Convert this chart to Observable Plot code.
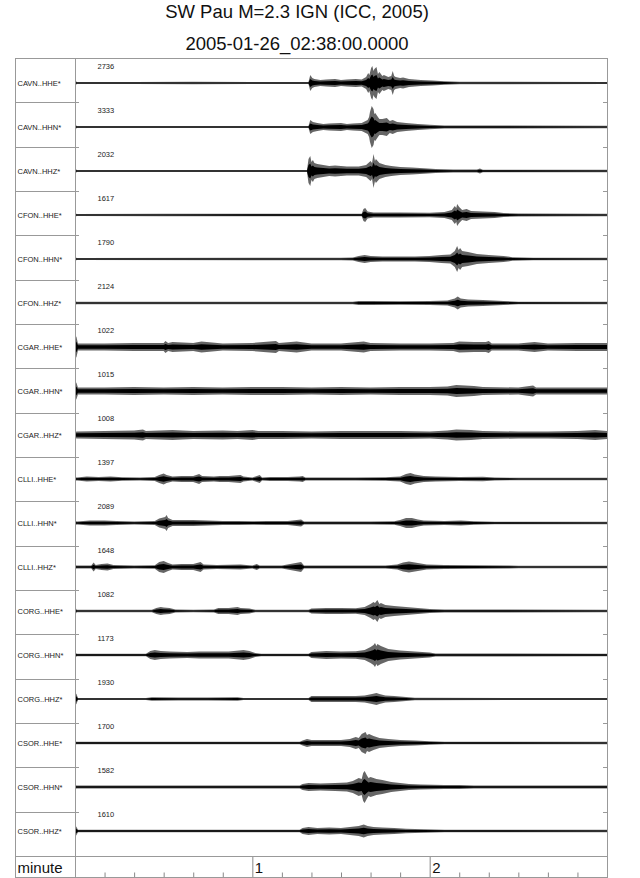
<!DOCTYPE html>
<html><head><meta charset="utf-8">
<script src="https://cdn.jsdelivr.net/npm/d3@7"></script>
<script src="https://cdn.jsdelivr.net/npm/@observablehq/plot@0.6"></script>
<style>
body{margin:0;background:#fff;font-family:"Liberation Sans",Arial,sans-serif;}
#wrap{position:relative;width:640px;height:878px;overflow:hidden;background:#fff}
.title{position:absolute;left:0;width:594px;text-align:center;font-size:18.5px;line-height:1;color:#111;white-space:nowrap}
</style></head><body>
<div id="wrap">
 <div class="title" style="top:3px">SW Pau M=2.3 IGN (ICC, 2005)</div>
 <div class="title" style="top:34.5px">2005-01-26_02:38:00.0000</div>
 <div id="chart" style="position:absolute;left:0;top:57px"></div>
 <div id="axis" style="position:absolute;left:0;top:856px"></div>
</div>
<script>
// ---- data: envelope half-amplitude [seconds, relative amplitude] ----
const channels = ["CAVN..HHE*","CAVN..HHN*","CAVN..HHZ*","CFON..HHE*","CFON..HHN*","CFON..HHZ*",
  "CGAR..HHE*","CGAR..HHN*","CGAR..HHZ*","CLLI..HHE*","CLLI..HHN*","CLLI..HHZ*",
  "CORG..HHE*","CORG..HHN*","CORG..HHZ*","CSOR..HHE*","CSOR..HHN*","CSOR..HHZ*"];
const peaks = [2736,3333,2032,1617,1790,2124,1022,1015,1008,1397,2089,1648,1082,1173,1930,1700,1582,1610];
const minorTicks = [10,20,30,40,50,70,80,90,100,110,130,140,150,160,170];
const majorTicks = [60,120];

const CAVN_HHE = [[0,3],[0.6,1],[20,1],[40,1.2],[60,1],[79,1],[79.6,8],[80.3,5],[81,4],[83,3],[85,3.5],[88,4],[90,3],[92,3.5],[95,4],[97,3.5],[98.5,6],[99.2,10],[99.6,8],[100.2,15],[100.6,17],[101,12],[101.3,14],[102,16],[102.5,9],[103,11],[104,7],[104.5,8],[106,6],[107,7],[107.5,12],[108,7],[108.5,6],[110,5],[111,5.5],[113,4],[117,3],[121,2.5],[125,1.8],[130,1.2],[180,1]];
const CAVN_HHN = [[0,3],[0.6,1],[79,1],[79.6,7],[80.5,5],[82,4],[84,3],[86,3.5],[90,4],[92,3],[94,3.5],[97,4],[99,7],[99.5,10],[99.8,15],[100.4,21],[101,18],[101.3,13],[101.6,14],[102.5,10],[103,8],[104,8],[105.5,9],[106.5,6],[107.5,7],[109,5],[112,4],[116,3],[120,2.2],[125,1.5],[180,1.2]];
const CAVN_HHZ = [[0,3],[0.6,1],[78.5,1],[79,12],[79.6,15],[80,9],[80.5,11],[81,8],[82,7],[84,6],[86,5],[88,5.5],[92,4.5],[96,4.5],[98.5,6],[100,10],[100.5,8],[101,17],[101.5,10],[101.8,12],[103,8],[104,7],[105,6],[107,5],[110,4],[114,3.5],[118,2.8],[122,2],[128,1.5],[136,1.5],[137,2.5],[138,1.3],[180,1.2]];
const CFON_HHE = [[0,2],[0.6,1],[30,1.2],[60,1.3],[90,1.3],[97,1.3],[97.6,6],[98.2,7],[99,3.5],[101,2.5],[110,2.5],[120,2.2],[125,3],[127.5,5],[128.5,9],[129,7],[129.3,11],[130,8],[131,5],[132.5,6],[134,4],[138,3.5],[142,3],[145,2],[150,1.5],[180,1.2]];
const CFON_HHN = [[0,2],[0.6,1],[90,1.2],[94,1.5],[96,3],[98,4],[100,3],[104,2.5],[115,2.5],[120,3],[124,4],[127,4.5],[128.5,8],[129.3,13],[129.8,9],[130.3,11],[131,8],[133,7],[136,5],[140,4],[145,3],[148,1.8],[155,1.3],[180,1.2]];
const CFON_HHZ = [[0,2],[0.6,1.2],[94,1.2],[96,2],[100,2],[110,1.8],[120,2],[126,2.5],[128.5,4.5],[129.5,6.5],[130.5,4.5],[133,3.5],[138,3],[145,2],[150,1.3],[180,1.2]];
const CGAR_HHE = [[0,12],[0.5,10],[1,3.5],[10,3.5],[20,4],[30,4],[30.6,6],[31.5,4],[33,5],[40,4],[42.8,5.5],[50,3.5],[60,4],[68,6],[69,4],[75,5.5],[80,3.5],[90,3.5],[97.7,5.5],[100,4],[110,3.5],[120,3.5],[128,4],[130,5.5],[135,5],[139,5],[140,6],[141,3.5],[150,3.5],[155.5,5],[160,3.5],[170,4],[180,4]];
const CGAR_HHN = [[0,10],[0.5,8],[1,3.5],[10,3.5],[20,4],[30,3.5],[40,4],[50,3.5],[60,4],[70,4],[80,3.5],[90,4],[100,3.5],[110,4],[120,4],[126,4.5],[129,6],[132,5.5],[135,5],[138,4],[150,3.5],[155,5.5],[156,3.5],[170,3.5],[180,3.5]];
const CGAR_HHZ = [[0,3],[0.6,3.5],[10,4],[20,4.5],[23,5.5],[24,4],[33,5],[40,4],[50,4.5],[55,4],[60,5],[62,4],[70,4],[80,3.5],[90,4],[100,4],[110,4],[120,3.5],[126,4.5],[129,5.5],[134,5],[138,4],[150,3.5],[160,3.5],[170,4],[176,5],[180,4]];
const CLLI_HHE = [[0,2],[0.6,1.5],[4,2.5],[8,2],[12,2.5],[16,1.8],[22,1.5],[27,2],[28.5,4],[30,5.5],[31,4],[33,2.5],[36,3],[40,3],[42,5],[43,3],[47,2.5],[49,3],[52,3],[56,4],[57,2.5],[60,1.5],[62.5,4],[63.3,1.5],[66,2],[72,2],[76,2.5],[77,3],[78,1.5],[85,1.5],[95,1.5],[105,1.8],[110,2.5],[112,5],[113.5,6],[115,4.5],[118,3],[122,2.5],[130,2],[138,2.2],[142,1.5],[150,1.2],[180,1.2]];
const CLLI_HHN = [[0,2.5],[0.6,1.5],[5,2.5],[10,2.5],[14,2],[20,1.5],[27,2],[28.5,4.5],[30.5,6],[31,8],[31.5,5],[33,3],[36,3],[40,3],[45,2.5],[50,2],[55,2],[60,1.8],[65,2],[72,2],[76.5,3.5],[77.5,1.5],[90,1.5],[100,1.5],[108,1.8],[110,3],[112,5],[114,5],[116,3.5],[118,2.5],[125,2],[130.6,2.5],[135,1.8],[142,1.3],[180,1.2]];
const CLLI_HHZ = [[0,2],[0.6,1.5],[5.5,1.5],[6.3,4.5],[7,2],[9,3],[11,3.5],[13,2],[20,1.5],[27,1.8],[28.5,5],[30,6],[31.5,4],[33,2.5],[36,3],[40,3],[42.5,5],[43.5,2.5],[48,2],[56,2.5],[60,1.5],[61.5,3],[62.5,1.5],[70,1.5],[76.5,5],[77.5,1.5],[90,1.5],[105,1.5],[109,2.5],[111,4.5],[113,5.5],[116,4],[119,2.5],[125,2],[135,1.8],[147,1.5],[150,1.2],[180,1.2]];
const CORG_HHE = [[0,4],[0.6,1.2],[26,1.2],[27.5,3],[29,4],[30,3.5],[32,3],[34,1.5],[40,1.2],[47,1.5],[48.5,3],[52,3],[55,4],[56,3],[59,2.5],[61,1.2],[79,1.2],[80,2.5],[85,3],[90,3],[95,2.8],[98,4],[100,7],[101,9],[101.5,8],[102.3,11],[103,7],[103.5,8],[105,6],[108,5],[112,4],[116,3],[120,2],[125,1.5],[180,1.2]];
const CORG_HHN = [[0,3],[0.6,1.3],[24,1.3],[25.5,4],[27,5],[29,4],[32,3.5],[38,3],[42,3.5],[47,3.5],[52,3.5],[55.5,4.5],[57,5],[59,4],[61,2],[63,1.3],[79,1.3],[80,3],[85,4],[90,3.5],[95,3.8],[98,5],[100,8],[101,10],[101.5,12],[102,9],[102.3,11],[103.5,9],[106,6],[110,4.5],[115,3.5],[120,2.5],[122,1.5],[180,1.3]];
const CORG_HHZ = [[0,6],[0.5,5],[1,1],[24,1],[26,1.8],[35,1.5],[45,1.5],[55,1.8],[57,1],[79,1],[80,3],[85,3],[90,3],[95,3],[98,3.5],[100.5,5],[102,6],[103,5],[105,3.5],[108,3],[112,2],[115,1.2],[180,1]];
const CSOR_HHE = [[0,1.5],[0.6,1.3],[76,1.3],[77,2.5],[78.5,4],[80,3],[85,3],[90,3],[93,4],[95,6],[96,5],[97,9],[98.3,11],[98.8,8],[99.5,9],[101,7],[103,5],[106,4],[110,3],[115,2.5],[120,1.8],[125,1.3],[180,1.2]];
const CSOR_HHN = [[0,2],[0.6,1.5],[76,1.5],[77,3],[79,4],[83,3.5],[88,4],[92,4.5],[94,6],[96,9],[97,8],[97.5,14],[98,16],[98.7,12],[99.3,9],[100,10],[102,8],[104,7],[107,5],[110,4],[113,3],[117,2.5],[125,2],[130,2],[135,1.6],[180,1.5]];
const CSOR_HHZ = [[0,6],[0.5,4],[1,1.3],[76,1.3],[77,3],[79,4],[82,3],[86,3.5],[90,3],[93,4],[96,5],[97.7,6.5],[99,5],[101,4],[104,3.5],[108,3],[112,2.2],[118,1.8],[125,1.3],[180,1.2]];

const traces = [CAVN_HHE,CAVN_HHN,CAVN_HHZ,CFON_HHE,CFON_HHN,CFON_HHZ,CGAR_HHE,CGAR_HHN,CGAR_HHZ,
  CLLI_HHE,CLLI_HHN,CLLI_HHZ,CORG_HHE,CORG_HHN,CORG_HHZ,CSOR_HHE,CSOR_HHN,CSOR_HHZ];
const table = channels.flatMap((ch,i) => traces[i].map(([t,a]) => ({ch, t, a})));
const rows = channels.map((ch,i) => ({ch, peak: String(peaks[i])}));

const FONT = "'Liberation Sans', Arial, sans-serif";
const rowsH = 798, W = 640, ML = 75, MR = 33;

const plot = Plot.plot({
  width: W, height: rowsH + 1, marginTop: 1, marginBottom: 0, marginLeft: ML, marginRight: MR,
  x: {domain: [0, 180], axis: null},
  y: {domain: [-22, 22], axis: null},
  fy: {domain: channels, axis: null, padding: 0},
  style: {background: "transparent", overflow: "visible", fontFamily: FONT},
  marks: [
    // full envelope as a darker band, dense core as solid black
    Plot.areaY(table, {x: "t", y1: d => -d.a, y2: "a", fy: "ch", fill: "#000", fillOpacity: 0.6, curve: "linear"}),
    Plot.areaY(table, {x: "t", y1: d => -0.5 * d.a, y2: d => 0.5 * d.a, fy: "ch", fill: "#000", curve: "linear"}),
    Plot.text(rows, {fy: "ch", text: "ch", frameAnchor: "left", dx: -58, textAnchor: "start", fontSize: 7.5, fill: "#222"}),
    Plot.text(rows, {fy: "ch", text: "peak", frameAnchor: "top-left", dx: 22, dy: 2, lineAnchor: "top", fontSize: 7.5, fill: "#222"})
  ]
});
document.getElementById("chart").append(plot);

const axisPlot = Plot.plot({
  width: W, height: 22, marginTop: 0, marginBottom: 0, marginLeft: ML, marginRight: MR,
  x: {domain: [0, 180], axis: null},
  y: {domain: [0, 1], axis: null},
  style: {background: "transparent", overflow: "visible", fontFamily: FONT},
  marks: [
    Plot.ruleX(minorTicks, {x: d => d, y1: 0, y2: 0.25, stroke: "#888"}),
    Plot.ruleX(majorTicks, {x: d => d, y1: 0, y2: 1, stroke: "#888"}),
    Plot.text(majorTicks, {x: d => d, y: 0.5, text: d => String(d / 60), dx: 2, dy: 1, textAnchor: "start", fontSize: 15, fill: "#111"}),
    Plot.text(["minute"], {frameAnchor: "left", text: d => d, dx: -58, dy: 1, textAnchor: "start", fontSize: 15, fill: "#111"})
  ]
});
document.getElementById("axis").append(axisPlot);

// ---- frame decoration (layout only) ----
function line(svg, x1, y1, x2, y2) {
  d3.select(svg).append("line").attr("x1", x1).attr("y1", y1).attr("x2", x2).attr("y2", y2)
    .attr("stroke", "#999").attr("stroke-width", 1).attr("shape-rendering", "crispEdges");
}
const rowH = rowsH / channels.length;
line(plot, 15.5, 1, 15.5, rowsH + 1);
line(plot, 75.5, 1, 75.5, rowsH + 1);
line(plot, 607.5, 1, 607.5, rowsH + 1);
line(plot, 15, 1.5, 608, 1.5);
for (let i = 1; i < channels.length; i++) {
  const y = Math.round(1 + i * rowH) + 0.5;
  line(plot, 15, y, 75, y);
  line(plot, 75, y, 79, y);
  line(plot, 603, y, 607, y);
}
line(axisPlot, 15, 0.5, 608, 0.5);
line(axisPlot, 15.5, 0, 15.5, 22);
line(axisPlot, 75.5, 0, 75.5, 22);
line(axisPlot, 607.5, 0, 607.5, 22);
line(axisPlot, 15, 21.5, 608, 21.5);
</script>
</body></html>
